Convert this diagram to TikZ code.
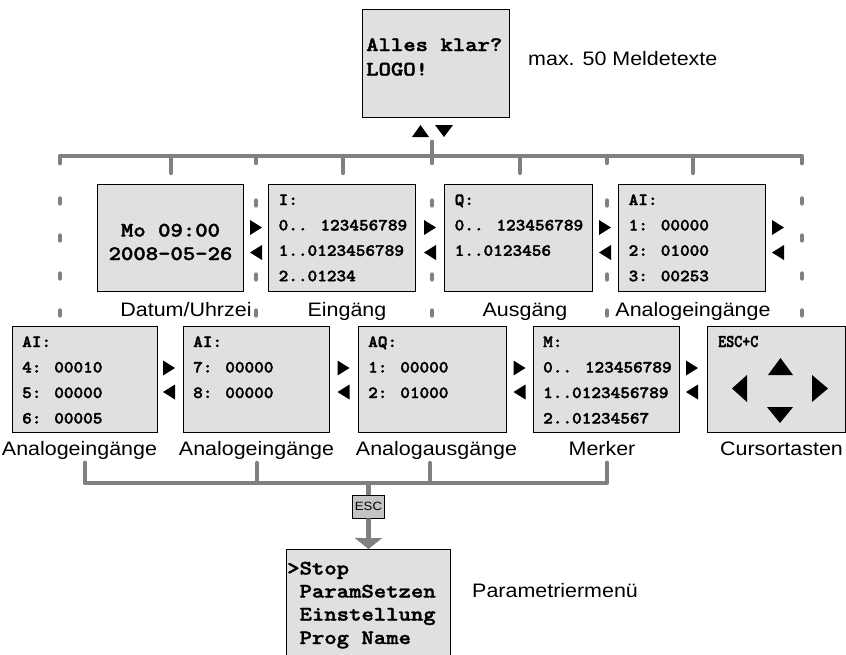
\documentclass[tikz,border=0pt]{standalone}
\usepackage{fontspec}
\usetikzlibrary{calc,arrows.meta}
\newfontfamily\lcd{lmmonolt10-bold.otf}[FakeStretch=1.15, FakeBold=1.7]
\newfontfamily\lcds{lmmonolt10-bold.otf}[FakeStretch=1.08, FakeBold=2]
\newfontfamily\lcdn{lmmonolt10-bold.otf}[FakeStretch=0.85, FakeBold=1.8]
\newfontfamily\lab{Liberation Sans}[FakeStretch=1.1]
\definecolor{lcdfill}{RGB}{224,224,224}
\definecolor{wiregray}{RGB}{128,128,128}
\definecolor{keyfill}{RGB}{196,196,196}
\tikzset{
  lcdbox/.style={draw=black, line width=0.9pt, fill=lcdfill, anchor=north west, inner sep=0pt},
  bigtxt/.style={font={\lcd\fontsize{20.5}{24}\selectfont}, inner sep=0pt, anchor=base west},
  smalltxt/.style={font={\lcds\fontsize{17}{20}\selectfont}, inner sep=0pt, anchor=base west},
  lbl/.style={font={\lab\fontsize{19.5}{23}\selectfont}, inner sep=0pt, anchor=base},
  wire/.style={draw=wiregray, line width=4.8pt, line cap=round, line join=round},
  tickline/.style={draw=wiregray, line width=4.3pt, line cap=round},
  dotline/.style={draw=wiregray, line width=4.3pt, line cap=round},
}
\newcommand\pairat[3]{%
  \fill (#1-6,#2-7.5) -- (#1+6,#2) -- (#1-6,#2+7.5) -- cycle;
  \fill (#1+6,#3-7.5) -- (#1-6,#3) -- (#1+6,#3+7.5) -- cycle;}
\begin{document}
\begin{tikzpicture}[x=1pt,y=-1pt]
\useasboundingbox (0,0) rectangle (846,654);
\clip (0,0) rectangle (846,654);

% ---------- top box
\node[lcdbox, minimum width=147pt, minimum height=108pt] (top) at (362,9) {};
\node[bigtxt] (top-l1) at (366,51) {Alles klar?};
\node[bigtxt] (top-l2) at (366,75.5) {LOGO!};
\node[font={\lab\fontsize{19.5}{23}\selectfont}, inner sep=0pt, anchor=base west] (top-lbl) at (528,65) {max. 50 Meldetexte};
\fill (412,137) -- (429,137) -- (420.5,125) -- cycle;
\fill (435,125) -- (453,125) -- (444,137) -- cycle;

% ---------- top bar
\draw[wire] (432,142) -- (432,156);
\draw[wire] (60,163) -- (60,156) -- (802,156) -- (802,163);
\foreach \x in {171,343,520,693} \draw[tickline] (\x,156) -- (\x,173);
\foreach \x in {256,432,607} \draw[tickline] (\x,156) -- (\x,163);
\foreach \x in {60,802} \foreach \y in {201,238,276,313} \draw[dotline] (\x,\y-2.5) -- (\x,\y+2.5);
\foreach \x in {256,432,607} \foreach \y in {203,277,313} \draw[dotline] (\x,\y-2.5) -- (\x,\y+2.5);

% ---------- row 1
\node[lcdbox, minimum width=146pt, minimum height=107pt] (dat) at (97,184) {};
\node[font={\lcd\fontsize{20.5}{24}\selectfont}, inner sep=0pt, anchor=base] (dat-l1) at (170.5,236.5) {Mo 09:00};
\node[font={\lcd\fontsize{20.5}{24}\selectfont}, inner sep=0pt, anchor=base] (dat-l2) at (170.5,260) {2008-05-26};

\node[lcdbox, minimum width=147pt, minimum height=107pt] (inp) at (268,184) {};
\foreach \t [count=\i] in {I:,0.. 123456789,1..0123456789,2..01234}
  \node[smalltxt] (inp-l\i) at ($(inp.north west)+(10.5,21+25.4*\i-25.4)$) {\t};

\node[lcdbox, minimum width=148pt, minimum height=107pt] (out) at (444,184) {};
\foreach \t [count=\i] in {Q:,0.. 123456789,1..0123456}
  \node[smalltxt] (out-l\i) at ($(out.north west)+(10.5,21+25.4*\i-25.4)$) {\t};

\node[lcdbox, minimum width=147pt, minimum height=107pt] (aia) at (618,184) {};
\foreach \t [count=\i] in {AI:,1: 00000,2: 01000,3: 00253}
  \node[smalltxt] (aia-l\i) at ($(aia.north west)+(10.5,21+25.4*\i-25.4)$) {\t};

\pairat{256}{227.5}{252.5}
\pairat{430}{227.5}{252.5}
\pairat{605}{227.5}{252.5}
\pairat{778}{227.5}{252.5}

\node[lbl] (dat-lbl) at (186,316.5) {Datum/Uhrzei};
\node[lbl] (inp-lbl) at (347,316.5) {Eingäng};
\node[lbl] (out-lbl) at (525,316.5) {Ausgäng};
\node[lbl] (aia-lbl) at (693,316.5) {Analogeingänge};

% ---------- row 2
\node[lcdbox, minimum width=145pt, minimum height=106pt] (aib) at (12,326) {};
\foreach \t [count=\i] in {AI:,4: 00010,5: 00000,6: 00005}
  \node[smalltxt] (aib-l\i) at ($(aib.north west)+(10,21+25.5*\i-25.5)$) {\t};

\node[lcdbox, minimum width=146pt, minimum height=106pt] (aic) at (183,326) {};
\foreach \t [count=\i] in {AI:,7: 00000,8: 00000}
  \node[smalltxt] (aic-l\i) at ($(aic.north west)+(10,21+25.5*\i-25.5)$) {\t};

\node[lcdbox, minimum width=148pt, minimum height=106pt] (aq) at (358,326) {};
\foreach \t [count=\i] in {AQ:,1: 00000,2: 01000}
  \node[smalltxt] (aq-l\i) at ($(aq.north west)+(10,21+25.5*\i-25.5)$) {\t};

\node[lcdbox, minimum width=146pt, minimum height=106pt] (mer) at (533,326) {};
\foreach \t [count=\i] in {M:,0.. 123456789,1..0123456789,2..01234567}
  \node[smalltxt] (mer-l\i) at ($(mer.north west)+(10,21+25.5*\i-25.5)$) {\t};

\node[lcdbox, minimum width=138pt, minimum height=106pt] (cur) at (707,326) {};
\node[font={\lcdn\fontsize{18}{20}\selectfont}, inner sep=0pt, anchor=base west] (cur-l1) at (718,347) {ESC+C};
\fill (768,375) -- (793,375) -- (780.5,358) -- cycle;
\fill (747,375) -- (747,402) -- (732,388.5) -- cycle;
\fill (812,375) -- (812,402) -- (828,388.5) -- cycle;
\fill (767,407) -- (793,407) -- (780,423) -- cycle;

\pairat{169}{368}{392}
\pairat{343.5}{368}{392}
\pairat{519.5}{368}{392}
\pairat{692}{368}{392}

\node[lbl] (aib-lbl) at (79.5,455) {Analogeingänge};
\node[lbl] (aic-lbl) at (256.5,455) {Analogeingänge};
\node[lbl] (aq-lbl) at (436.5,455) {Analogausgänge};
\node[lbl] (mer-lbl) at (602,455) {Merker};
\node[lbl] (cur-lbl) at (781.5,455) {Cursortasten};

% ---------- bottom bar, ESC and parameter menu
\draw[wire] (85,463) -- (85,483) -- (607,483) -- (607,463);
\foreach \x in {257,430} \draw[tickline] (\x,463) -- (\x,483);
\node[draw=black, line width=0.8pt, fill=keyfill, minimum width=32pt, minimum height=23pt, inner sep=0pt,
      font={\lab\fontsize{12}{13}\selectfont}] (esc) at (368.5,506.5) {ESC};
\node[lcdbox, minimum width=164pt, minimum height=125pt] (par) at (286,549) {};
\draw[wire, line cap=butt] (368.5,483) -- (esc.north);
\draw[wire, line cap=butt, -{Triangle[width=27pt,length=11pt]}] (esc.south) -- (par.north);
\node[bigtxt] (par-l1) at (287,574.5) {>Stop};
\node[bigtxt] (par-l2) at (287,597.5) {\hphantom{>}ParamSetzen};
\node[bigtxt] (par-l3) at (287,620.5) {\hphantom{>}Einstellung};
\node[bigtxt] (par-l4) at (287,644) {\hphantom{>}Prog Name};
\node[font={\lab\fontsize{19.5}{23}\selectfont}, inner sep=0pt, anchor=base west] (par-lbl) at (472,597) {Parametriermenü};
\end{tikzpicture}
\end{document}
